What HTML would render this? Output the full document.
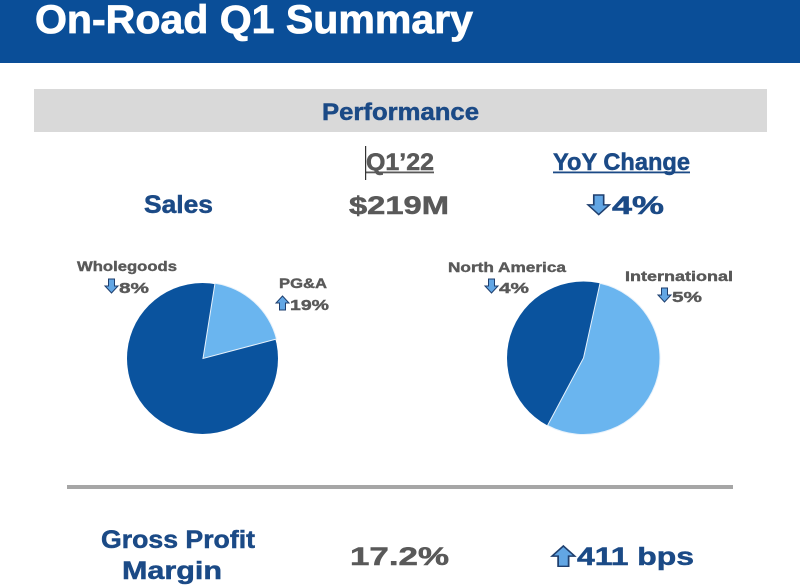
<!DOCTYPE html>
<html><head><meta charset="utf-8"><style>
html,body{margin:0;padding:0;background:#fff;}
svg{display:block;}
</style></head><body>
<svg width="800" height="588" viewBox="0 0 800 588" xmlns="http://www.w3.org/2000/svg" font-family="'Liberation Sans', 'DejaVu Sans', sans-serif" font-weight="bold">
<defs>
<g id="dn"><polygon points="3.5,0 9.5,0 9.5,7 13,7 6.5,14 0,7 3.5,7" fill="#62a6e4" stroke="#1f3f6e" stroke-width="1"/></g>
<g id="up"><polygon points="6.5,0 13,7 9.5,7 9.5,14 3.5,14 3.5,7 0,7" fill="#62a6e4" stroke="#1f3f6e" stroke-width="1"/></g>
</defs>
<rect x="0" y="0" width="800" height="63" fill="#0a4e98"/>
<text x="35" y="33" font-size="40" fill="#ffffff" stroke="#ffffff" stroke-width="0.8" textLength="438" lengthAdjust="spacingAndGlyphs">On-Road Q1 Summary</text>

<rect x="34" y="89" width="733" height="43" fill="#d9d9d9"/>
<text x="322" y="120" font-size="24" fill="#1b4a86" stroke="#1b4a86" stroke-width="0.5" textLength="157" lengthAdjust="spacingAndGlyphs">Performance</text>

<text x="366" y="170" font-size="24" fill="#595959" stroke="#595959" stroke-width="0.5" textLength="68" lengthAdjust="spacingAndGlyphs">Q1’22</text>
<rect x="366" y="171.5" width="68" height="1.8" fill="#595959"/>
<rect x="365" y="146" width="1.2" height="34" fill="#333"/>
<text x="553" y="170" font-size="24" fill="#1b4a86" stroke="#1b4a86" stroke-width="0.5" textLength="137" lengthAdjust="spacingAndGlyphs">YoY Change</text>
<rect x="553" y="171.5" width="137" height="1.8" fill="#1b4a86"/>

<text x="144" y="213" font-size="25" fill="#1b4a86" stroke="#1b4a86" stroke-width="0.5" textLength="69" lengthAdjust="spacingAndGlyphs">Sales</text>
<text x="349" y="214" font-size="25" fill="#595959" stroke="#595959" stroke-width="0.5" textLength="100" lengthAdjust="spacingAndGlyphs">$219M</text>
<use href="#dn" transform="translate(588,195) scale(1.65,1.4)"/>
<text x="612" y="214" font-size="25" fill="#1b4a86" stroke="#1b4a86" stroke-width="0.5" textLength="52" lengthAdjust="spacingAndGlyphs">4%</text>

<!-- Pie 1 -->
<circle cx="202.5" cy="358.5" r="75.5" fill="#0a539e"/>
<path d="M203,358.5 L215,283.2 A75.5,75.5 0 0 1 276.5,339 Z" fill="#6ab5ef" stroke="#e8f2fb" stroke-width="1"/>
<text x="77" y="271" font-size="14" fill="#595959" stroke="#595959" stroke-width="0.4" textLength="100" lengthAdjust="spacingAndGlyphs">Wholegoods</text>
<use href="#dn" transform="translate(105,279)"/>
<text x="119" y="293" font-size="15" fill="#595959" stroke="#595959" stroke-width="0.4" textLength="30" lengthAdjust="spacingAndGlyphs">8%</text>
<text x="279" y="288" font-size="14" fill="#595959" stroke="#595959" stroke-width="0.4" textLength="48" lengthAdjust="spacingAndGlyphs">PG&amp;A</text>
<use href="#up" transform="translate(276,296)"/>
<text x="290" y="310" font-size="15" fill="#595959" stroke="#595959" stroke-width="0.4" textLength="39" lengthAdjust="spacingAndGlyphs">19%</text>

<!-- Pie 2 -->
<circle cx="583.5" cy="358" r="76.5" fill="#0a539e"/>
<path d="M583.5,358 L600,283.3 A76.5,76.5 0 1 1 547.5,425.5 Z" fill="#6ab5ef" stroke="#e8f2fb" stroke-width="1"/>
<text x="448" y="272" font-size="14" fill="#595959" stroke="#595959" stroke-width="0.4" textLength="118" lengthAdjust="spacingAndGlyphs">North America</text>
<use href="#dn" transform="translate(485,279)"/>
<text x="499" y="293" font-size="15" fill="#595959" stroke="#595959" stroke-width="0.4" textLength="30" lengthAdjust="spacingAndGlyphs">4%</text>
<text x="625" y="281" font-size="14" fill="#595959" stroke="#595959" stroke-width="0.4" textLength="108" lengthAdjust="spacingAndGlyphs">International</text>
<use href="#dn" transform="translate(658,288)"/>
<text x="672" y="302" font-size="15" fill="#595959" stroke="#595959" stroke-width="0.4" textLength="30" lengthAdjust="spacingAndGlyphs">5%</text>

<rect x="67" y="485" width="666" height="4" fill="#a6a6a6"/>

<text x="101" y="548" font-size="25" fill="#1b4a86" stroke="#1b4a86" stroke-width="0.5" textLength="154" lengthAdjust="spacingAndGlyphs">Gross Profit</text>
<text x="122" y="579" font-size="25" fill="#1b4a86" stroke="#1b4a86" stroke-width="0.5" textLength="100" lengthAdjust="spacingAndGlyphs">Margin</text>
<text x="350" y="565" font-size="25" fill="#595959" stroke="#595959" stroke-width="0.5" textLength="99" lengthAdjust="spacingAndGlyphs">17.2%</text>
<use href="#up" transform="translate(552,546) scale(1.75,1.45)"/>
<text x="577" y="565" font-size="25" fill="#1b4a86" stroke="#1b4a86" stroke-width="0.5" textLength="117" lengthAdjust="spacingAndGlyphs">411 bps</text>
</svg>
</body></html>
